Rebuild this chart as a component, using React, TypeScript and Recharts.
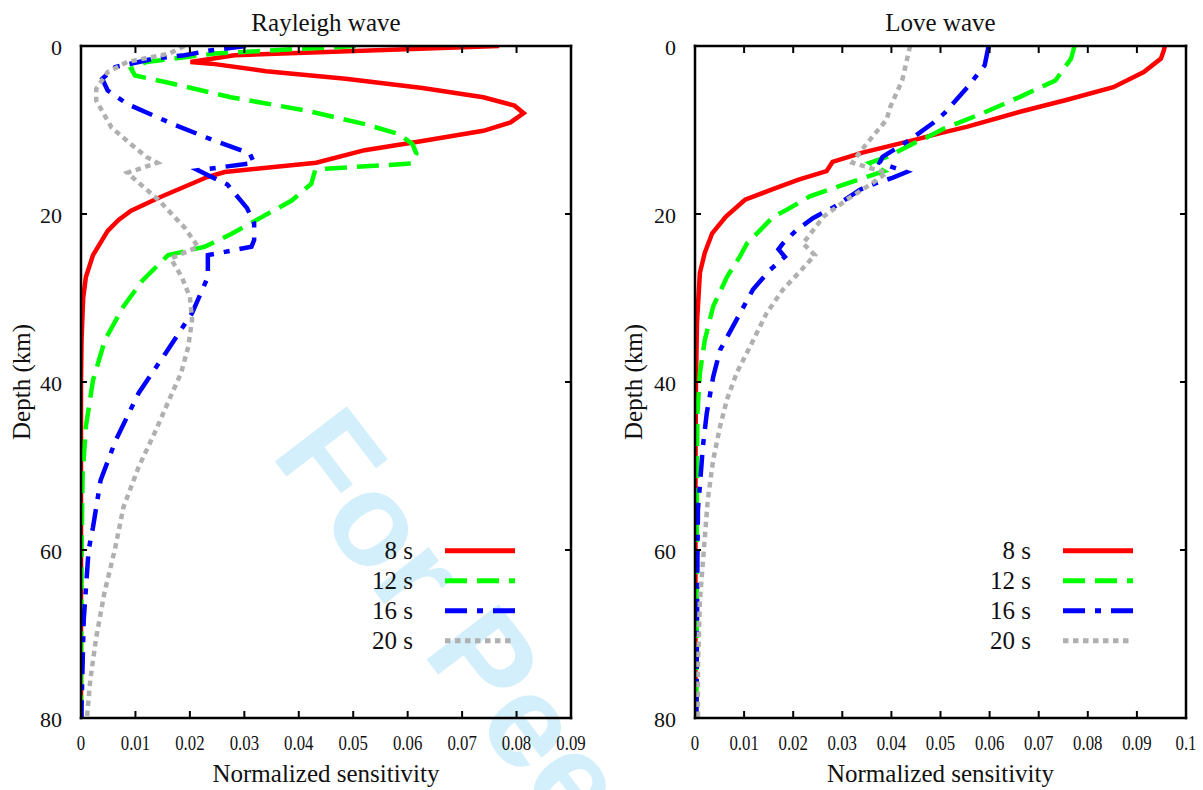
import { LineChart, Line, XAxis, YAxis, Legend } from "recharts";

// ---------------------------------------------------------------------------
// Data (depth in km, normalized sensitivity)
// ---------------------------------------------------------------------------

const periods = ["8 s", "12 s", "16 s", "20 s"];
const depthTicks = [0, 20, 40, 60, 80];
const rayleighTicks = [0, 0.01, 0.02, 0.03, 0.04, 0.05, 0.06, 0.07, 0.08, 0.09];
const loveTicks = [0, 0.01, 0.02, 0.03, 0.04, 0.05, 0.06, 0.07, 0.08, 0.09, 0.1];

const rayleigh8Depth = [0, 1.1, 1.9, 2.1, 3.0, 3.9, 5.0, 6.1, 7.1, 8.0, 9.1, 10.1, 11.3, 12.4, 13.9, 15.0, 15.6, 18.0, 19.6, 20.7, 22.0, 24.9, 27.5, 30, 35, 40, 80];
const rayleigh8 = [0.0768, 0.0282, 0.0201, 0.0239, 0.034, 0.0486, 0.0627, 0.0739, 0.0796, 0.0813, 0.0789, 0.0739, 0.0627, 0.0521, 0.0432, 0.0264, 0.0232, 0.0145, 0.0092, 0.0069, 0.0049, 0.0022, 0.0009, 0.0004, 0.0001, 0, 0];

const rayleigh12Depth = [0, 0.3, 0.9, 1.4, 1.9, 2.7, 3.5, 4.5, 6.1, 7.7, 9.3, 10.5, 11.7, 12.8, 14.0, 14.6, 14.8, 16.4, 18.4, 20.4, 22.4, 23.9, 24.9, 27.9, 31, 35, 39.8, 45.3, 51, 60, 80];
const rayleigh12 = [0.0505, 0.0415, 0.0246, 0.0183, 0.012, 0.0092, 0.0099, 0.0169, 0.0275, 0.0415, 0.0521, 0.0585, 0.0609, 0.0616, 0.0606, 0.045, 0.043, 0.0423, 0.0387, 0.0331, 0.0275, 0.0227, 0.016, 0.0113, 0.0078, 0.0044, 0.0022, 0.0009, 0.0003, 0.0001, 0];

const rayleigh16Depth = [0, 0.5, 1.1, 1.5, 1.9, 2.5, 3.9, 5.3, 6.9, 9.3, 11.3, 12.8, 13.9, 14.8, 16.5, 19.3, 21.1, 23.1, 23.9, 24.9, 27.5, 31.8, 36.6, 41.3, 46.9, 51.7, 57.3, 60, 68.3, 78.7, 80];
const rayleigh16 = [0.0303, 0.024, 0.019, 0.0134, 0.0106, 0.0063, 0.0039, 0.0049, 0.0085, 0.0169, 0.0246, 0.031, 0.0318, 0.0215, 0.0269, 0.0305, 0.0318, 0.0318, 0.0313, 0.0233, 0.0233, 0.0204, 0.0155, 0.0106, 0.0064, 0.0036, 0.0022, 0.0014, 0.0005, 0.0001, 0.0001];

const rayleigh20Depth = [0, 0.9, 1.9, 3.1, 5.1, 6.5, 9.7, 11.7, 13.2, 13.9, 15.1, 18.3, 21.6, 23.9, 25.3, 27.5, 29.9, 32.6, 35.8, 38.9, 42.1, 46.1, 50.1, 54.9, 60, 65.1, 70.4, 75.5, 80];
const rayleigh20 = [0.019, 0.0162, 0.0085, 0.0049, 0.0028, 0.0028, 0.0056, 0.0092, 0.012, 0.014, 0.0085, 0.0142, 0.019, 0.0215, 0.0165, 0.0185, 0.02, 0.0204, 0.0197, 0.0184, 0.0162, 0.0135, 0.0106, 0.0078, 0.0062, 0.0043, 0.0028, 0.0017, 0.0011];

const love8Depth = [0, 0.5, 1.5, 3.1, 4.9, 6.4, 7.8, 9.6, 10.4, 11.2, 12.7, 13.8, 14.9, 15.9, 17.0, 18.3, 20.3, 22.3, 24.6, 27, 29, 33, 39.8, 50, 80];
const love8 = [0.0957, 0.0955, 0.0949, 0.0914, 0.0852, 0.0758, 0.0664, 0.0555, 0.0498, 0.0445, 0.0341, 0.028, 0.0268, 0.0211, 0.016, 0.0102, 0.0063, 0.0035, 0.002, 0.001, 0.0008, 0.0004, 0.0002, 0.0001, 0.0001];

const love12Depth = [0, 1.5, 4.1, 6.0, 8.0, 9.8, 10.8, 11.6, 13.2, 13.9, 14.9, 16.3, 17.9, 19.5, 20.3, 23.5, 25.1, 27.5, 31, 35, 38.9, 43.7, 50, 80];
const love12 = [0.0773, 0.0766, 0.0734, 0.0664, 0.0586, 0.0508, 0.0475, 0.0445, 0.0391, 0.0356, 0.0385, 0.0313, 0.0234, 0.0187, 0.016, 0.0106, 0.0091, 0.0065, 0.0037, 0.002, 0.001, 0.0005, 0.0004, 0.0003];

const love16Depth = [0, 2.3, 4.9, 8.0, 9.2, 11.2, 13.2, 13.9, 15.0, 15.7, 16.3, 17.1, 19.1, 20.5, 22, 23.5, 24.2, 25.1, 26.7, 29, 33.4, 36.2, 39.4, 43.7, 47.7, 50.8, 55.2, 61, 70, 80];
const love16 = [0.0598, 0.059, 0.0555, 0.0508, 0.0484, 0.0437, 0.0382, 0.0376, 0.0431, 0.0402, 0.037, 0.0336, 0.0285, 0.024, 0.0205, 0.0179, 0.017, 0.0183, 0.0152, 0.0118, 0.0077, 0.0051, 0.0037, 0.0024, 0.0016, 0.0012, 0.0006, 0.0005, 0.0004, 0.0003];

const love20Depth = [0, 4.1, 7.2, 8.8, 10.4, 12.7, 13.9, 15.1, 16.3, 18.3, 20.3, 23.5, 24.9, 26.9, 29, 31.8, 35.8, 38.9, 42.1, 45.3, 49.3, 54, 60, 66, 73.9, 80];
const love20 = [0.0438, 0.0422, 0.0398, 0.039, 0.0367, 0.0335, 0.0321, 0.039, 0.0362, 0.0309, 0.0262, 0.022, 0.0244, 0.0213, 0.0179, 0.0146, 0.0112, 0.0085, 0.0065, 0.0051, 0.0037, 0.0026, 0.0018, 0.001, 0.0006, 0.0006];

// ---------------------------------------------------------------------------
// Styles
// ---------------------------------------------------------------------------

const SERIF = '"Liberation Serif", "Times New Roman", serif';
const INK = "#111";

const seriesStyle = [
  { color: "#ff0000", dash: undefined as string | undefined },
  { color: "#00ff00", dash: "22 10" },
  { color: "#0000ff", dash: "22 10 6 10" },
  { color: "#b0b0b0", dash: "5.5 4.5" },
];

const axisStroke = { stroke: "#000", strokeWidth: 2.5, strokeLinecap: "square" as const };
const TICK_LEN = 7;

// ---------------------------------------------------------------------------
// Helpers
// ---------------------------------------------------------------------------

type Pt = { d: number; v: number };

function toPoints(depth: number[], value: number[]): Pt[] {
  const n = Math.min(depth.length, value.length);
  const out: Pt[] = [];
  for (let i = 0; i < n; i++) out.push({ d: depth[i], v: value[i] });
  return out;
}

// gnuplot-style ticks: the mark points into the plot, the label sits outside.
// With tickSize/tickMargin = 0 the x/y handed in lie on the axis line itself.
function BottomTick(props: any) {
  const { x, y, payload } = props;
  const ly = y + 17;
  return (
    <g>
      <line x1={x} x2={x} y1={y} y2={y - TICK_LEN} stroke="#000" strokeWidth={2} />
      <text
        x={x}
        y={ly}
        dy="0.71em"
        textAnchor="middle"
        style={{ fontFamily: SERIF }}
        fontSize={21}
        fill={INK}
        transform={`translate(${x} ${ly}) scale(0.8 1) translate(${-x} ${-ly})`}
      >
        {payload.value}
      </text>
    </g>
  );
}

function TopTick(props: any) {
  const { x, y } = props;
  return <line x1={x} x2={x} y1={y} y2={y + TICK_LEN} stroke="#000" strokeWidth={2} />;
}

function LeftTick(props: any) {
  const { x, y, payload } = props;
  return (
    <g>
      <line x1={x} x2={x + 6} y1={y} y2={y} stroke="#000" strokeWidth={2} />
      <text x={x - 19} y={y} dy="0.4em" textAnchor="end" style={{ fontFamily: SERIF }} fontSize={22} fill={INK}>
        {payload.value}
      </text>
    </g>
  );
}

function RightTick(props: any) {
  const { x, y } = props;
  return <line x1={x} x2={x - 6} y1={y} y2={y} stroke="#000" strokeWidth={2} />;
}

function viewBoxOf(p: any) {
  const vb = p && p.viewBox ? p.viewBox : p || {};
  return { x: vb.x ?? 0, y: vb.y ?? 0, width: vb.width ?? 0, height: vb.height ?? 0 };
}

function LegendBox() {
  return (
    <svg width={240} height={130} style={{ display: "block" }}>
      {periods.map((name, i) => {
        const cy = 22.7 + i * 30;
        const s = seriesStyle[i];
        return (
          <g key={name}>
            <text x={113} y={cy + 8.5} textAnchor="end" style={{ fontFamily: SERIF }} fontSize={25} fill={INK}>
              {name}
            </text>
            <line x1={145} x2={215} y1={cy} y2={cy} stroke={s.color} strokeWidth={5} strokeDasharray={s.dash} />
          </g>
        );
      })}
    </svg>
  );
}

// ---------------------------------------------------------------------------
// Panel
// ---------------------------------------------------------------------------

interface PanelProps {
  title: string;
  xTicks: number[];
  series: Pt[][];
  width: number;
  plotLeft: number;
  plotRight: number;
  legendLeft: number;
  yLabelGap: number;
}

function ProfilePanel({ title, xTicks, series, width, plotLeft, plotRight, legendLeft, yLabelGap }: PanelProps) {
  const xMax = xTicks[xTicks.length - 1];
  return (
    <LineChart
      layout="vertical"
      width={width}
      height={790}
      margin={{ top: 0, right: width - plotRight - 1, bottom: 0, left: 0 }}
      style={{ fontFamily: SERIF }}
    >
      <XAxis
        xAxisId="bottom"
        type="number"
        orientation="bottom"
        domain={[0, xMax]}
        ticks={xTicks}
        interval={0}
        allowDataOverflow
        height={72}
        tickSize={0}
        tickMargin={0}
        tick={BottomTick}
        tickLine={false}
        axisLine={axisStroke}
        label={{
          content: (p: any) => {
            const vb = viewBoxOf(p);
            return (
              <text x={vb.x + vb.width / 2} y={vb.y + 63.5} textAnchor="middle" style={{ fontFamily: SERIF }} fontSize={25} fill={INK}>
                Normalized sensitivity
              </text>
            );
          },
        }}
      />
      <XAxis
        xAxisId="top"
        type="number"
        orientation="top"
        domain={[0, xMax]}
        ticks={xTicks}
        interval={0}
        allowDataOverflow
        height={46}
        tickSize={0}
        tickMargin={0}
        tick={TopTick}
        tickLine={false}
        axisLine={axisStroke}
        label={{
          content: (p: any) => {
            const vb = viewBoxOf(p);
            return (
              <text x={vb.x + vb.width / 2} y={vb.y + 31} textAnchor="middle" style={{ fontFamily: SERIF }} fontSize={25} fill={INK}>
                {title}
              </text>
            );
          },
        }}
      />
      <YAxis
        yAxisId="left"
        type="number"
        dataKey="d"
        domain={[0, 80]}
        ticks={depthTicks}
        interval={0}
        allowDataOverflow
        width={plotLeft}
        tickSize={0}
        tickMargin={0}
        tick={LeftTick}
        tickLine={false}
        axisLine={axisStroke}
        label={{
          content: (p: any) => {
            const vb = viewBoxOf(p);
            const bx = vb.x + vb.width - yLabelGap;
            const cy = vb.y + vb.height / 2;
            return (
              <text
                x={bx}
                y={cy}
                textAnchor="middle"
                style={{ fontFamily: SERIF }}
                fontSize={25}
                fill={INK}
                transform={`rotate(-90 ${bx} ${cy})`}
              >
                Depth (km)
              </text>
            );
          },
        }}
      />
      <YAxis
        yAxisId="right"
        orientation="right"
        type="number"
        dataKey="d"
        domain={[0, 80]}
        ticks={depthTicks}
        interval={0}
        allowDataOverflow
        width={1}
        tickSize={0}
        tickMargin={0}
        tick={RightTick}
        tickLine={false}
        axisLine={axisStroke}
      />
      {series.map((pts, i) => (
        <Line
          key={periods[i]}
          xAxisId="bottom"
          yAxisId="left"
          data={pts}
          dataKey="v"
          name={periods[i]}
          type="linear"
          stroke={seriesStyle[i].color}
          strokeWidth={4.5}
          strokeDasharray={seriesStyle[i].dash}
          dot={false}
          activeDot={false}
          isAnimationActive={false}
        />
      ))}
      <Legend
        layout="vertical"
        align="center"
        verticalAlign="middle"
        wrapperStyle={{ left: legendLeft, top: 528, width: 240, height: 130 }}
        content={() => <LegendBox />}
      />
    </LineChart>
  );
}

// ---------------------------------------------------------------------------
// App
// ---------------------------------------------------------------------------

export default function App() {
  const rayleighSeries = [
    toPoints(rayleigh8Depth, rayleigh8),
    toPoints(rayleigh12Depth, rayleigh12),
    toPoints(rayleigh16Depth, rayleigh16),
    toPoints(rayleigh20Depth, rayleigh20),
  ];
  const loveSeries = [
    toPoints(love8Depth, love8),
    toPoints(love12Depth, love12),
    toPoints(love16Depth, love16),
    toPoints(love20Depth, love20),
  ];

  return (
    <div
      style={{
        position: "absolute",
        left: 0,
        top: 0,
        width: 1203,
        height: 790,
        background: "#fff",
        overflow: "hidden",
      }}
    >
      {/* review watermark, sits behind both panels */}
      <svg width={1203} height={790} style={{ position: "absolute", left: 0, top: 0 }}>
        <text
          x={269.5}
          y={454.6}
          transform="rotate(52.5 269.5 454.6)"
          style={{ fontFamily: '"Liberation Sans", Arial, sans-serif' }}
          fontWeight="bold"
          fontSize={132}
          fill="#d3effb"
        >
          For Peer Review
        </text>
      </svg>
      <div style={{ position: "absolute", left: 0, top: 0 }}>
        <ProfilePanel
          title="Rayleigh wave"
          xTicks={rayleighTicks}
          series={rayleighSeries}
          width={600}
          plotLeft={81}
          plotRight={571}
          legendLeft={300}
          yLabelGap={51}
        />
      </div>
      <div style={{ position: "absolute", left: 600, top: 0 }}>
        <ProfilePanel
          title="Love wave"
          xTicks={loveTicks}
          series={loveSeries}
          width={603}
          plotLeft={95}
          plotRight={586}
          legendLeft={318}
          yLabelGap={53}
        />
      </div>
    </div>
  );
}
